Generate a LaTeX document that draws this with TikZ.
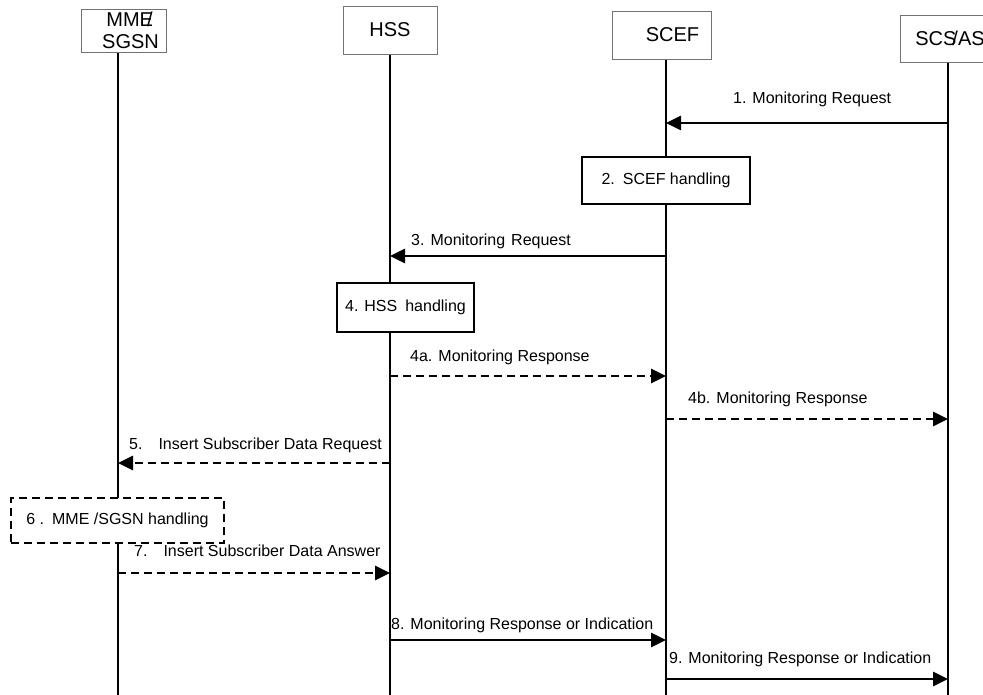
\documentclass[tikz,border=0pt]{standalone}
\usepackage{fontspec}
\setmainfont{Liberation Sans}
\usetikzlibrary{arrows.meta}

\begin{document}
\begin{tikzpicture}[x=1pt, y=-1pt,
    entity/.style={draw=black!55, line width=0.8pt, fill=white, inner sep=0pt,
        align=center, font=\fontsize{20}{22}\selectfont},
    handler/.style={draw, line width=1.4pt, fill=white, inner sep=0pt,
        font=\fontsize{16}{19}\selectfont},
    lifeline/.style={line width=1.1pt},
    msg/.style={line width=2.6pt, -{Triangle[length=15pt,width=14pt]}},
    reply/.style={msg, dash pattern=on 8pt off 5pt},
    lbl/.style={anchor=west, inner sep=0pt, font=\fontsize{16}{19}\selectfont}]
    \useasboundingbox (0,0) rectangle (983,695);

    % lifelines
    \coordinate (bot) at (0,695);
    \coordinate (mmeL) at (118,52);
    \coordinate (hssL) at (390,54);
    \coordinate (scefL) at (666,59);
    \coordinate (scsL) at (948,62);
    \draw[lifeline] (mmeL) -- (mmeL |- bot);
    \draw[lifeline] (hssL) -- (hssL |- bot);
    \draw[lifeline] (scefL) -- (scefL |- bot);
    \draw[lifeline] (scsL) -- (scsL |- bot);

    % entities
    \node[entity, minimum width=85pt, minimum height=43pt] (mme) at (123.5,30.5)
        {\hspace*{12pt}MME\kern-6pt/\\\hspace*{14pt}SGSN};
    \node[entity, minimum width=94pt, minimum height=48pt] (hss) at (390,30) {HSS};
    \node[entity, minimum width=99pt, minimum height=48pt] (scef) at (661.5,35)
        {\hspace*{22pt}SCEF};
    \node[entity, minimum width=100pt, minimum height=47pt] (scs) at (950,38.5)
        {SCS\kern-4pt/AS};

    % handling boxes
    \node[handler, minimum width=168pt, minimum height=47pt] (scefh) at (666,180.5)
        {2.\hspace{8pt}SCEF handling};
    \node[handler, minimum width=137pt, minimum height=49pt] (hssh) at (405.5,307.5)
        {4. HSS\hspace{8pt}handling};
    \node[handler, line width=2.3pt, dash pattern=on 8pt off 5pt,
        minimum width=213pt, minimum height=45pt] (mmeh) at (117.5,520.5)
        {6 .\hspace{8pt}MME /SGSN handling};

    % message rows
    \coordinate (r1) at (0,123);
    \coordinate (r3) at (0,256);
    \coordinate (r4a) at (0,376);
    \coordinate (r4b) at (0,419);
    \coordinate (r5) at (0,463);
    \coordinate (r7) at (0,573);
    \coordinate (r8) at (0,640);
    \coordinate (r9) at (0,679);

    \draw[msg] (scsL |- r1) -- (scefL |- r1);
    \draw[msg] (scefL |- r3) -- (hssL |- r3);
    \draw[reply] (hssL |- r4a) -- (scefL |- r4a);
    \draw[reply] (scefL |- r4b) -- (scsL |- r4b);
    \draw[reply] (hssL |- r5) -- (mmeL |- r5);
    \draw[reply] (mmeL |- r7) -- (hssL |- r7);
    \draw[msg] (hssL |- r8) -- (scefL |- r8);
    \draw[msg] (scefL |- r9) -- (scsL |- r9);

    % labels
    \node[lbl] (l1) at (733,99) {1. Monitoring Request};
    \node[lbl] (l3) at (411,241) {3.\hspace{6pt}Monitoring\hspace{6pt}Request};
    \node[lbl] (l4a) at (410,357) {4a.\hspace{6pt}Monitoring Response};
    \node[lbl] (l4b) at (688,399) {4b.\hspace{6pt}Monitoring Response};
    \node[lbl] (l5) at (129,445) {5.\hspace{16pt}Insert Subscriber Data Request};
    \node[lbl] (l7) at (134,551) {7.\hspace{16pt}Insert Subscriber Data Answer};
    \node[lbl] (l8) at (391,625) {8. Monitoring Response or Indication};
    \node[lbl] (l9) at (669,659) {9. Monitoring Response or Indication};
\end{tikzpicture}
\end{document}
